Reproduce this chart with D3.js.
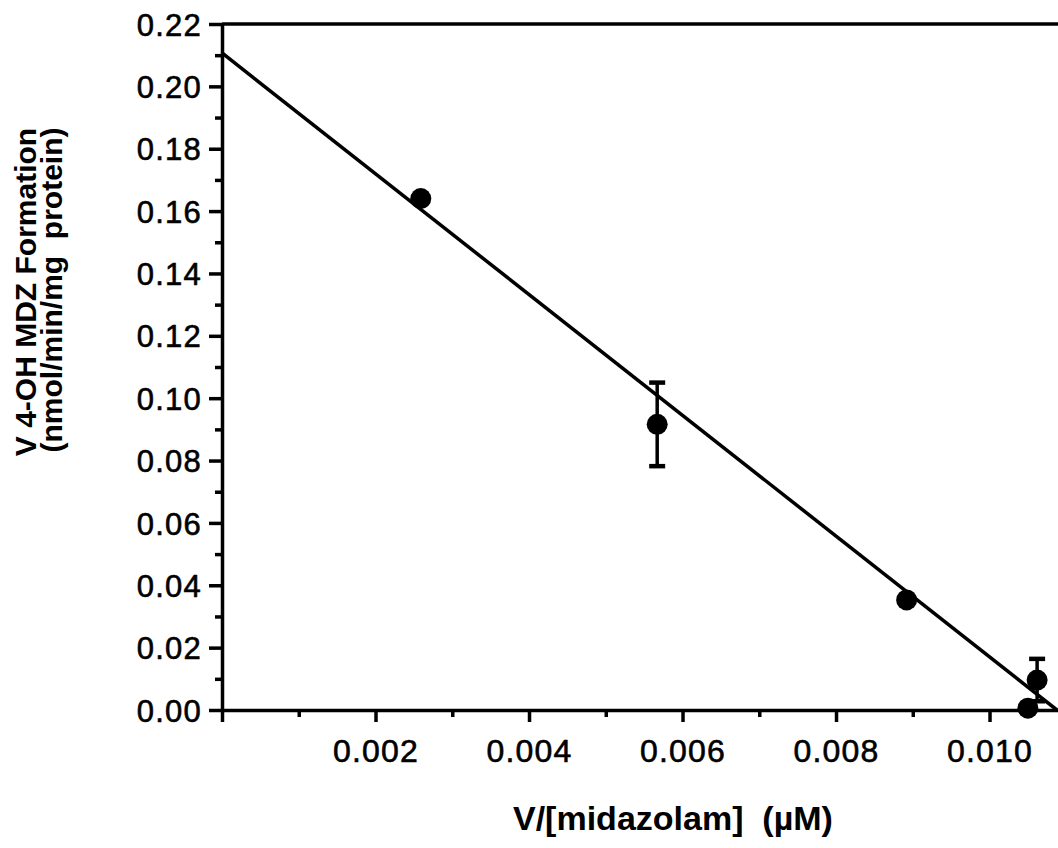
<!DOCTYPE html>
<html>
<head>
<meta charset="utf-8">
<script src="https://cdn.jsdelivr.net/npm/d3@7"></script>
<style>
  html, body { margin: 0; padding: 0; background: #fff; }
  svg { display: block; }
  text { white-space: pre; }
</style>
</head>
<body>
<svg id="chart" width="1058" height="848"></svg>
<script>
// ---- data ----
const xValues = [0.00259, 0.00567, 0.00892, 0.01062, 0.01050];
const yValues = [0.1640, 0.0916, 0.0353, 0.0096, 0.0006];
const yErrors = [0, 0.0134, 0, 0.0068, 0];
const fitX = [0, 0.01088];
const fitY = [0.2107, 0];
const xMajorTicks = [0, 0.002, 0.004, 0.006, 0.008, 0.010];
const xMinorTicks = [0.001, 0.003, 0.005, 0.007, 0.009];
const yMajorTicks = [0, 0.02, 0.04, 0.06, 0.08, 0.10, 0.12, 0.14, 0.16, 0.18, 0.20, 0.22];
const yMinorTicks = [0.01, 0.03, 0.05, 0.07, 0.09, 0.11, 0.13, 0.15, 0.17, 0.19, 0.21];
const xTitle = "V/[midazolam]  (\u00B5M)";
const yTitle1 = "V 4-OH MDZ Formation";
const yTitle2 = "(nmol/min/mg  protein)";

const svg = d3.select("#chart");
const x = d3.scaleLinear().domain([0, 0.0109]).range([222, 1058.6]);
const y = d3.scaleLinear().domain([0, 0.22]).range([710, 24]);
const SW = 3.5;
const tickFont = "'Liberation Sans', Arial, sans-serif";

function styleTickText(sel, size) {
  sel.attr("font-family", tickFont).attr("font-size", size)
    .attr("letter-spacing", 1.2).attr("fill", "#000")
    .attr("stroke", "#000").attr("stroke-width", 0.6);
}

// x axis
const gx = svg.append("g").attr("transform", `translate(0,${y(0)})`);
gx.call(d3.axisBottom(x).tickValues(xMajorTicks).tickSize(12).tickSizeOuter(0)
  .tickFormat(d => d === 0 ? "" : d3.format(".3f")(d)));
gx.select(".domain").attr("stroke-width", SW);
gx.selectAll(".tick line").attr("stroke-width", SW);
styleTickText(gx.selectAll(".tick text").attr("y", 0).attr("dy", 52), 32);
const gxm = svg.append("g").attr("transform", `translate(0,${y(0)})`);
gxm.call(d3.axisBottom(x).tickValues(xMinorTicks).tickSize(7).tickSizeOuter(0).tickFormat(""));
gxm.select(".domain").remove();
gxm.selectAll(".tick line").attr("stroke-width", SW);

// y axis
const gy = svg.append("g").attr("transform", `translate(${x(0)},0)`);
gy.call(d3.axisLeft(y).tickValues(yMajorTicks).tickSize(13).tickSizeOuter(0)
  .tickFormat(d3.format(".2f")));
gy.select(".domain").attr("stroke-width", SW);
gy.selectAll(".tick line").attr("stroke-width", SW);
styleTickText(gy.selectAll(".tick text").attr("x", -20).attr("dy", "0.36em"), 31);
const gym = svg.append("g").attr("transform", `translate(${x(0)},0)`);
gym.call(d3.axisLeft(y).tickValues(yMinorTicks).tickSize(7).tickSizeOuter(0).tickFormat(""));
gym.select(".domain").remove();
gym.selectAll(".tick line").attr("stroke-width", SW);

// top frame line
svg.append("line")
  .attr("x1", x(0)).attr("x2", x.range()[1])
  .attr("y1", y(0.22)).attr("y2", y(0.22))
  .attr("stroke", "#000").attr("stroke-width", SW);

// regression line
svg.append("path")
  .datum(fitX.map((v, i) => [v, fitY[i]]))
  .attr("d", d3.line().x(d => x(d[0])).y(d => y(d[1])))
  .attr("fill", "none").attr("stroke", "#000").attr("stroke-width", SW);

// error bars
const pts = xValues.map((v, i) => ({ x: v, y: yValues[i], e: yErrors[i] }));
const eb = svg.append("g").selectAll("g").data(pts.filter(p => p.e > 0)).join("g");
eb.append("line").attr("x1", d => x(d.x)).attr("x2", d => x(d.x))
  .attr("y1", d => y(d.y - d.e)).attr("y2", d => y(d.y + d.e))
  .attr("stroke", "#000").attr("stroke-width", SW);
eb.selectAll(".cap").data(d => [[d.x, d.y - d.e], [d.x, d.y + d.e]]).join("line")
  .attr("x1", d => x(d[0]) - 8).attr("x2", d => x(d[0]) + 8)
  .attr("y1", d => y(d[1])).attr("y2", d => y(d[1]))
  .attr("stroke", "#000").attr("stroke-width", SW + 1);

// points
svg.append("g").selectAll("circle").data(pts).join("circle")
  .attr("cx", d => x(d.x)).attr("cy", d => y(d.y)).attr("r", 10.5).attr("fill", "#000");

// axis titles
const titleFont = "'Liberation Sans', Arial, sans-serif";
svg.append("text").attr("x", 513).attr("y", 830).attr("text-anchor", "start")
  .attr("font-family", titleFont).attr("font-weight", "bold").attr("font-size", 34)
  .text(xTitle);
svg.append("text").attr("transform", "translate(36,292) rotate(-90)")
  .attr("text-anchor", "middle").attr("font-family", titleFont)
  .attr("font-weight", "bold").attr("font-size", 30).text(yTitle1);
svg.append("text").attr("transform", "translate(62,290) rotate(-90)")
  .attr("text-anchor", "middle").attr("font-family", titleFont)
  .attr("font-weight", "bold").attr("font-size", 30).text(yTitle2);
</script>
</body>
</html>
